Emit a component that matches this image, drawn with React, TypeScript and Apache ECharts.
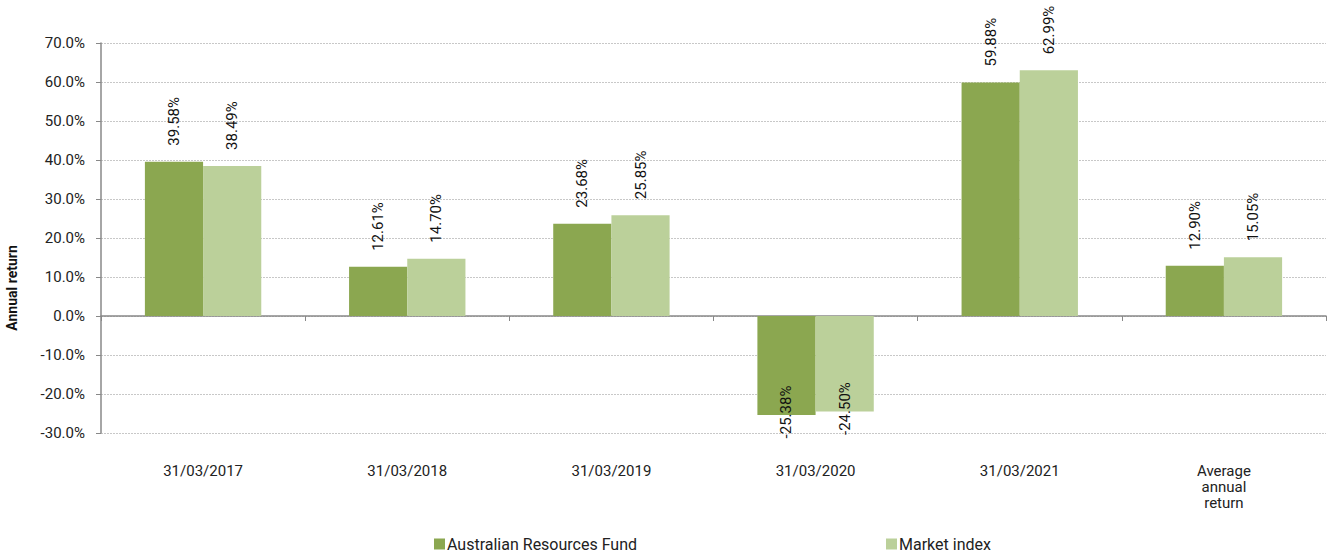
import React, { useEffect, useRef } from "react";
import * as echarts from "echarts";

const categories = ["31/03/2017", "31/03/2018", "31/03/2019", "31/03/2020", "31/03/2021", "Average\nannual\nreturn"];
const fundValues = [39.58, 12.61, 23.68, -25.38, 59.88, 12.9];
const indexValues = [38.49, 14.7, 25.85, -24.5, 62.99, 15.05];
const seriesNames = ["Australian Resources Fund", "Market index"];
const colors = ["#8BA750", "#BBD09A"];

const FONT = "Roboto, 'Noto Sans', sans-serif";

function makeData(values: number[]) {
  return values.map((v) => {
    if (v >= 0) {
      return { value: v };
    }
    return {
      value: v,
      label: {
        position: "bottom",
        distance: -3,
        align: "center",
        verticalAlign: "middle",
      },
    };
  });
}

const labelStyle = {
  show: true,
  position: "top",
  rotate: 90,
  align: "left",
  verticalAlign: "middle",
  distance: 16,
  fontSize: 15,
  color: "#111",
  fontFamily: FONT,
  formatter: (p: any) => p.value.toFixed(2) + "%",
};

const legendText = { fontSize: 16, color: "#222", fontFamily: FONT, padding: [0, 0, 0, -3], lineHeight: 16 };

export default function App() {
  const ref = useRef<HTMLDivElement>(null);
  useEffect(() => {
    if (!ref.current) return;
    const chart = echarts.init(ref.current, null, { renderer: "svg" });
    chart.setOption({
      animation: false,
      textStyle: { fontFamily: FONT },
      grid: { left: 101, right: 2, top: 43, bottom: 124 },
      legend: [
        {
          data: [seriesNames[0]],
          left: 432,
          top: 534,
          padding: 2,
          itemWidth: 11,
          itemHeight: 11,
          icon: "rect",
          textStyle: legendText,
        },
        {
          data: [seriesNames[1]],
          left: 884,
          top: 534,
          padding: 2,
          itemWidth: 11,
          itemHeight: 11,
          icon: "rect",
          textStyle: legendText,
        },
      ],
      xAxis: [
        {
          type: "category",
          data: categories,
          position: "bottom",
          axisLine: { show: false, onZero: false },
          axisTick: { show: false },
          axisLabel: { fontSize: 15, color: "#222", margin: 30, lineHeight: 16, fontFamily: FONT },
        },
        {
          type: "category",
          data: categories,
          position: "bottom",
          axisLine: { show: true, onZero: true, lineStyle: { color: "#888", width: 1.5 } },
          axisTick: { show: true, length: 5, lineStyle: { color: "#888" } },
          axisLabel: { show: false },
        },
      ],
      yAxis: {
        type: "value",
        min: -30,
        max: 70,
        interval: 10,
        axisLine: { show: true, lineStyle: { color: "#888", width: 1.5 } },
        axisTick: { show: true, length: 5, lineStyle: { color: "#888" } },
        axisLabel: {
          fontSize: 15,
          color: "#222",
          margin: 16,
          fontFamily: FONT,
          formatter: (v: number) => v.toFixed(1) + "%",
        },
        splitLine: { show: true, lineStyle: { color: "#c8c8c8", type: [2, 1] } },
      },
      graphic: [
        {
          type: "text",
          x: 12,
          y: 288,
          rotation: Math.PI / 2,
          style: {
            text: "Annual return",
            fontSize: 14,
            fontWeight: "bold",
            fill: "#111",
            fontFamily: FONT,
            textAlign: "center",
            textVerticalAlign: "middle",
          },
        },
      ],
      series: [
        {
          name: seriesNames[0],
          type: "bar",
          data: makeData(fundValues),
          itemStyle: { color: colors[0] },
          barGap: "0%",
          barCategoryGap: "43%",
          label: labelStyle,
        },
        {
          name: seriesNames[1],
          type: "bar",
          data: makeData(indexValues),
          itemStyle: { color: colors[1] },
          barGap: "0%",
          barCategoryGap: "43%",
          label: labelStyle,
        },
      ],
    });
    return () => chart.dispose();
  }, []);
  return <div ref={ref} style={{ width: 1328, height: 557, position: "absolute", left: 0, top: 0 }} />;
}
